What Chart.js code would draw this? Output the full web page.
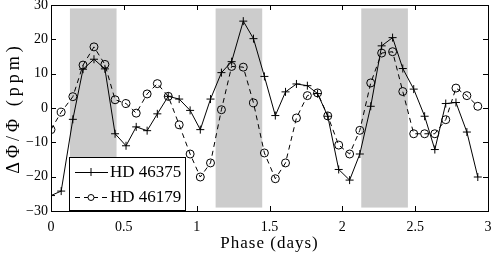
<!DOCTYPE html>
<html>
<head>
<meta charset="utf-8">
<script src="https://cdn.jsdelivr.net/npm/chart.js@4/dist/chart.umd.min.js"></script>
<style>
  html, body { margin: 0; padding: 0; background: #fff; }
  #wrap { width: 493px; height: 256px; }
</style>
</head>
<body>
<div id="wrap"><canvas id="phaseChart" width="493" height="256"></canvas></div>
<script>
// phase (days) of each sample
const phase = [0, 0.07, 0.15, 0.22, 0.295, 0.37, 0.44, 0.515, 0.585, 0.66, 0.73, 0.805, 0.88, 0.955,
	1.025, 1.095, 1.17, 1.24, 1.32, 1.39, 1.465, 1.54, 1.61, 1.685, 1.76, 1.83, 1.9, 1.975,
	2.05, 2.12, 2.195, 2.27, 2.345, 2.415, 2.49, 2.565, 2.635, 2.71, 2.78, 2.855, 2.93];

const hd46375 = [-25.5, -24.2, -3.3, 11.3, 14.2, 11.4, -7.5, -11, -5.5, -6.6, -1.7, 3.4, 2.6, -0.7,
	-6.3, 2.6, 10.3, 13.5, 25.3, 20.2, 9.2, -2.2, 4.7, 7, 6.5, 4.2, -2.4, -17.9,
	-21, -13.4, 0.5, 18.1, 20.5, 11.5, 5.5, -2.4, -12.1, 1.3, 1.6, -7, -20.1];

const hd46179 = [-6.3, -1.2, 3.3, 12.5, 17.8, 12.7, 2.4, 1.3, -1.5, 4.1, 7.1, 3.4, -4.9, -13.4,
	-20.1, -16, -0.5, 12.1, 11.9, 1.5, -13.1, -20.6, -16, -2.9, 3.6, 4.4, -2.3, -10.8,
	-13.4, -6.5, 7.3, 16, 16.4, 4.8, -7.5, -7.5, -7.5, -3.4, 5.8, 3.6, 0.5];

// shaded phase windows
const shadeStart = [0.13, 1.13, 2.13];
const shadeEnd = [0.45, 1.45, 2.45];
const shadeLow = -29;
const shadeHigh = 29;

const xTicks = [0, 0.5, 1, 1.5, 2, 2.5, 3];
const yTicks = [-30, -20, -10, 0, 10, 20, 30];

const serif = "'Liberation Serif', 'DejaVu Serif', serif";

function toPoints(xs, ys) {
	return xs.map((x, i) => ({ x: x, y: ys[i] }));
}

// the axis titles are set a bit wide, like the original latex labels
function spreadTitle(scale, spacing) {
	if (scale._spread) return;
	const orig = scale.drawTitle;
	scale.drawTitle = function () {
		const ctx = this.ctx;
		ctx.save();
		ctx.letterSpacing = spacing;
		orig.apply(this, arguments);
		ctx.restore();
	};
	scale._spread = true;
}

const shadePlugin = {
	id: 'shade',
	beforeDraw(chart) {
		spreadTitle(chart.scales.x, '1px');
		spreadTitle(chart.scales.y, '4px');
	},
	beforeDatasetsDraw(chart) {
		const { ctx, scales: { x, y } } = chart;
		ctx.save();
		ctx.fillStyle = '#cccccc';
		const top = y.getPixelForValue(shadeHigh);
		const bottom = y.getPixelForValue(shadeLow);
		shadeStart.forEach((s, i) => {
			const left = x.getPixelForValue(s);
			const right = x.getPixelForValue(shadeEnd[i]);
			ctx.fillRect(left, top, right - left, bottom - top);
		});
		ctx.restore();
	}
};

// box around the axes and ticks pointing inwards on all four sides
const framePlugin = {
	id: 'frame',
	afterDatasetsDraw(chart) {
		const { ctx, chartArea: a, scales: { x, y } } = chart;
		const len = 5;
		ctx.save();
		ctx.strokeStyle = '#000';
		ctx.lineWidth = 1;
		ctx.beginPath();
		xTicks.forEach(v => {
			const px = Math.round(x.getPixelForValue(v)) + 0.5;
			ctx.moveTo(px, a.bottom);
			ctx.lineTo(px, a.bottom - len);
			ctx.moveTo(px, a.top);
			ctx.lineTo(px, a.top + len);
		});
		yTicks.forEach(v => {
			const py = Math.round(y.getPixelForValue(v)) + 0.5;
			ctx.moveTo(a.left, py);
			ctx.lineTo(a.left + len, py);
			ctx.moveTo(a.right, py);
			ctx.lineTo(a.right - len, py);
		});
		ctx.stroke();
		ctx.strokeRect(Math.round(a.left) + 0.5, Math.round(a.top) + 0.5,
			Math.round(a.right - a.left), Math.round(a.bottom - a.top));
		ctx.restore();
	}
};

// legend box in the lower left corner, line sample with its marker
const legendPlugin = {
	id: 'boxLegend',
	afterDraw(chart) {
		const { ctx } = chart;
		const bx = 69, by = 157, bw = 116, bh = 53;
		ctx.save();
		ctx.fillStyle = '#fff';
		ctx.fillRect(bx, by, bw, bh);
		ctx.strokeStyle = '#000';
		ctx.lineWidth = 1;
		ctx.strokeRect(bx + 0.5, by + 0.5, bw, bh);
		chart.data.datasets.forEach((ds, i) => {
			const cy = by + 15 + i * 25;
			ctx.strokeStyle = '#000';
			ctx.lineWidth = 1;
			ctx.setLineDash(ds.borderDash || []);
			ctx.beginPath();
			ctx.moveTo(bx + 6, cy + 0.5);
			ctx.lineTo(bx + 39, cy + 0.5);
			ctx.stroke();
			ctx.setLineDash([]);
			ctx.beginPath();
			if (ds.pointStyle === 'cross') {
				ctx.moveTo(bx + 22, cy - 4);
				ctx.lineTo(bx + 22, cy + 4);
				ctx.moveTo(bx + 18, cy + 0.5);
				ctx.lineTo(bx + 26, cy + 0.5);
			} else {
				ctx.fillStyle = '#fff';
				ctx.arc(bx + 22, cy + 0.5, 3, 0, Math.PI * 2);
				ctx.fill();
			}
			ctx.stroke();
			ctx.fillStyle = '#000';
			ctx.font = '17px ' + serif;
			ctx.textBaseline = 'middle';
			ctx.fillText(ds.label, bx + 41, cy + 1);
		});
		ctx.restore();
	}
};

new Chart(document.getElementById('phaseChart'), {
	type: 'line',
	data: {
		datasets: [
			{
				label: 'HD 46375',
				data: toPoints(phase, hd46375),
				borderColor: '#000',
				borderWidth: 1,
				pointStyle: 'cross',
				pointRadius: 4,
				pointBorderColor: '#000',
				pointBorderWidth: 1,
				tension: 0
			},
			{
				label: 'HD 46179',
				data: toPoints(phase, hd46179),
				borderColor: '#000',
				borderWidth: 1,
				borderDash: [5, 4],
				pointStyle: 'circle',
				pointRadius: 4,
				pointBackgroundColor: 'rgba(0,0,0,0)',
				pointBorderColor: '#000',
				pointBorderWidth: 1,
				tension: 0
			}
		]
	},
	options: {
		responsive: false,
		animation: false,
		devicePixelRatio: 1,
		layout: { padding: { top: 5, right: 4, left: 0, bottom: 0 } },
		plugins: {
			legend: { display: false },
			tooltip: { enabled: false }
		},
		scales: {
			x: {
				type: 'linear',
				min: 0,
				max: 3,
				afterFit(s) { s.height = 45; s.paddingLeft = 0; s.paddingRight = 0; },
				afterBuildTicks(s) { s.ticks = xTicks.map(v => ({ value: v })); },
				grid: { display: false, drawTicks: false },
				border: { display: false },
				ticks: {
					color: '#000',
					padding: 8,
					maxRotation: 0,
					font: { family: serif, size: 14 },
					callback: v => String(v)
				},
				title: {
					display: true,
					text: 'Phase (days)',
					color: '#000',
					font: { family: serif, size: 17 },
					padding: { top: 0, bottom: 2 }
				}
			},
			y: {
				type: 'linear',
				min: -30,
				max: 30,
				afterFit(s) { s.width = 51; s.paddingTop = 0; s.paddingBottom = 0; },
				afterBuildTicks(s) { s.ticks = yTicks.map(v => ({ value: v })); },
				grid: { display: false, drawTicks: false },
				border: { display: false },
				ticks: {
					color: '#000',
					padding: 3,
					font: { family: serif, size: 14 },
					callback: v => (v < 0 ? '\u2212' + Math.abs(v) : String(v))
				},
				title: {
					display: true,
					text: 'ΔΦ/Φ (ppm)',
					color: '#000',
					font: { family: serif, size: 18 },
					padding: { top: 3, bottom: 0 }
				}
			}
		}
	},
	plugins: [shadePlugin, framePlugin, legendPlugin]
});
</script>
</body>
</html>
